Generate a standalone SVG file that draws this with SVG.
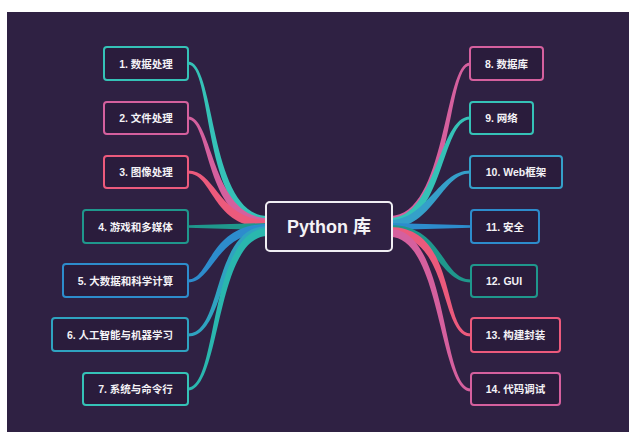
<svg xmlns="http://www.w3.org/2000/svg" width="629" height="432" viewBox="0 0 629 432">
<style>
.node rect{fill:#2a1c3c;stroke-width:2}
.node text{fill:#f4f2f6;font-family:"Liberation Sans","Noto Sans CJK SC",sans-serif;font-weight:bold;font-size:10.5px;text-anchor:middle;dominant-baseline:central}
.teal{stroke:#35c2b7}.pink{stroke:#d5609e}.coral{stroke:#ec5a7c}.dteal{stroke:#1f978c}.blue{stroke:#2d8ccc}.cblue{stroke:#2fa3c0}.bteal{stroke:#35a0c9}
</style>
<rect x="0" y="0" width="629" height="432" fill="#ffffff"/>
<rect x="7" y="12" width="622" height="420" fill="#2f2143"/>
<g id="connectors">
<path fill="#35c2b7" d="M188,61.5 C216.5,61.5 208.5,216 268,216 L268,224 C201.5,224 213.5,64.5 188,64.5 Z"/>
<path fill="#d5609e" d="M188,116.5 C213.5,116.5 211.5,218 268,218 L268,226 C204.5,226 210.5,119.5 188,119.5 Z"/>
<path fill="#ec5a7c" d="M188,170.5 C216.5,170.5 218.5,220 268,220 L268,228 C211.5,228 213.5,173.5 188,173.5 Z"/>
<path fill="#1f978c" d="M188,225.3 L268,223 L268,230 L188,227.7 Z"/>
<path fill="#2d8ccc" d="M188,279.5 C210.5,279.5 208.5,224 268,224 L268,232 C215.5,232 213.5,282.5 188,282.5 Z"/>
<path fill="#2fa3c0" d="M188,333.5 C223.5,333.5 211.5,226 268,226 L268,234 C218.5,234 226.5,336.5 188,336.5 Z"/>
<path fill="#2ab7ae" d="M188,387.5 C218.5,387.5 208.5,228 268,228 L268,236 C215.5,236 221.5,390.5 188,390.5 Z"/>
<path fill="#d5609e" d="M470,62.5 C443.5,62.5 446.5,216 390,216 L390,224 C453.5,224 446.5,65.5 470,65.5 Z"/>
<path fill="#35c2b7" d="M470,116.5 C438.5,116.5 436.5,218 390,218 L390,226 C443.5,226 441.5,119.5 470,119.5 Z"/>
<path fill="#35a0c9" d="M470,170.5 C438.5,170.5 426.5,220 390,220 L390,228 C433.5,228 441.5,173.5 470,173.5 Z"/>
<path fill="#2d8ccc" d="M471,225.3 L390,223 L390,230 L471,227.7 Z"/>
<path fill="#1f978c" d="M471,279.5 C441.5,279.5 443.5,225 390,225 L390,233 C436.5,233 438.5,282.5 471,282.5 Z"/>
<path fill="#ec5a7c" d="M471,333.5 C441.5,333.5 458.5,227 390,227 L390,235 C451.5,235 438.5,336.5 471,336.5 Z"/>
<path fill="#d5609e" d="M471,388.5 C441.5,388.5 448.5,229 390,229 L390,237 C441.5,237 438.5,391.5 471,391.5 Z"/>
</g>
<g id="center">
<rect x="266" y="202" width="126" height="49" rx="4" fill="#2f2143" stroke="#f0eef3" stroke-width="2"/>
<text x="329" y="226.5" fill="#f4f2f6" font-family="Liberation Sans,Noto Sans CJK SC,sans-serif" font-weight="bold" font-size="18" text-anchor="middle" dominant-baseline="central">Python 库</text>
</g>
<g id="n1" class="node"><rect class="teal" x="104" y="47" width="84" height="33" rx="3"/><text x="146" y="63.5">1. 数据处理</text></g>
<g id="n2" class="node"><rect class="pink" x="104" y="102" width="84" height="32" rx="3"/><text x="146" y="118">2. 文件处理</text></g>
<g id="n3" class="node"><rect class="coral" x="104" y="156" width="84" height="32" rx="3"/><text x="146" y="172">3. 图像处理</text></g>
<g id="n4" class="node"><rect class="dteal" x="83" y="210" width="105" height="33" rx="3"/><text x="135.5" y="226.5">4. 游戏和多媒体</text></g>
<g id="n5" class="node"><rect class="blue" x="63" y="264" width="125" height="33" rx="3"/><text x="125.5" y="280.5">5. 大数据和科学计算</text></g>
<g id="n6" class="node"><rect class="cblue" x="52" y="318" width="136" height="33" rx="3"/><text x="120" y="334.5">6. 人工智能与机器学习</text></g>
<g id="n7" class="node"><rect class="teal" x="83" y="373" width="105" height="32" rx="3"/><text x="135.5" y="389">7. 系统与命令行</text></g>
<g id="n8" class="node"><rect class="pink" x="470" y="47" width="73" height="33" rx="3"/><text x="506.5" y="63.5">8. 数据库</text></g>
<g id="n9" class="node"><rect class="teal" x="470" y="102" width="63" height="32" rx="3"/><text x="501.5" y="118">9. 网络</text></g>
<g id="n10" class="node"><rect class="bteal" x="470" y="156" width="92" height="32" rx="3"/><text x="516" y="172">10. Web框架</text></g>
<g id="n11" class="node"><rect class="blue" x="471" y="210" width="68" height="33" rx="3"/><text x="505" y="226.5">11. 安全</text></g>
<g id="n12" class="node"><rect class="dteal" x="471" y="265" width="66" height="32" rx="3"/><text x="504" y="281">12. GUI</text></g>
<g id="n13" class="node"><rect class="coral" x="471" y="318" width="89" height="34" rx="3"/><text x="515.5" y="335">13. 构建封装</text></g>
<g id="n14" class="node"><rect class="pink" x="471" y="373" width="89" height="32" rx="3"/><text x="515.5" y="389">14. 代码调试</text></g>
</svg>
